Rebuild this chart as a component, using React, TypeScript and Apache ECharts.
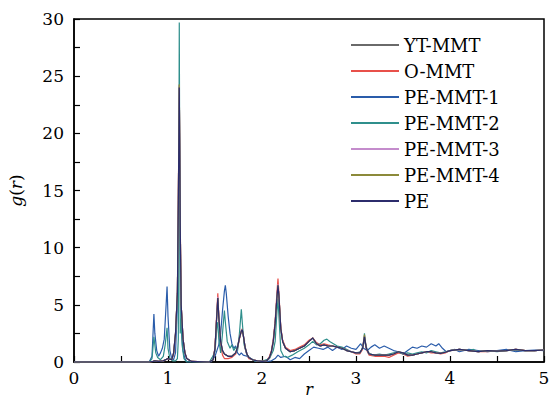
import React, { useEffect, useRef } from "react";
import * as echarts from "echarts";

// shared r grid for the closely overlapping curves
const rGrid = [
  0, 0.80, 0.84, 0.86, 0.90, 0.95, 1.00, 1.04, 1.06, 1.08,
  1.10, 1.11, 1.12, 1.13, 1.14, 1.16, 1.18, 1.20, 1.25, 1.44,
  1.48, 1.50, 1.52, 1.53, 1.54, 1.56, 1.58, 1.60, 1.64, 1.68,
  1.72, 1.74, 1.76, 1.78, 1.79, 1.80, 1.82, 1.84, 1.86, 1.90,
  1.95, 2.00, 2.05, 2.08, 2.10, 2.12, 2.14, 2.16, 2.17, 2.18,
  2.20, 2.22, 2.25, 2.30, 2.35, 2.40, 2.45, 2.50, 2.54, 2.58,
  2.62, 2.66, 2.70, 2.75, 2.80, 2.85, 2.90, 2.95, 3.00, 3.04,
  3.07, 3.09, 3.11, 3.14, 3.20, 3.25, 3.30, 3.35, 3.40, 3.45,
  3.50, 3.55, 3.60, 3.65, 3.70, 3.75, 3.80, 3.85, 3.90, 3.95,
  4.00, 4.10, 4.20, 4.30, 4.40, 4.50, 4.60, 4.70, 4.80, 4.90, 5.00,
];

const ytMmt = [
  0, 0, 0.05, 0.1, 0.05, 0.1, 0.3, 0.2, 0.8, 2.5,
  6.0, 14, 24.0, 12, 5.0, 2.0, 0.8, 0.3, 0.05, 0,
  0.2, 1.2, 4.2, 5.6, 4.0, 1.8, 1.0, 0.7, 0.5, 0.5,
  0.8, 1.3, 2.1, 2.7, 2.8, 2.4, 1.3, 0.7, 0.4, 0.2,
  0.1, 0.05, 0.1, 0.4, 0.9, 1.8, 3.4, 5.8, 6.7, 5.8,
  2.9, 1.8, 1.2, 0.9, 1.0, 1.2, 1.4, 1.8, 2.1, 1.6,
  1.4, 1.5, 1.4, 1.4, 1.3, 1.2, 1.0, 0.9, 0.8, 0.8,
  1.2, 2.2, 1.2, 0.7, 0.6, 0.6, 0.6, 0.6, 0.7, 0.9,
  0.8, 0.6, 0.6, 0.7, 0.8, 0.9, 0.9, 0.8, 0.75, 0.85,
  1.0, 1.1, 1.0, 0.9, 1.0, 0.95, 1.0, 1.1, 1.0, 1.0, 1.05,
];

const oMmt = [
  0, 0, 0.05, 0.1, 0.05, 0.1, 0.3, 0.2, 0.7, 2.4,
  6.2, 14.5, 24.2, 12.5, 5.0, 2.0, 0.8, 0.3, 0.05, 0,
  0.2, 1.3, 4.5, 6.0, 4.1, 1.5, 0.6, 0.3, 0.3, 0.4,
  0.7, 1.2, 2.0, 2.7, 2.9, 2.4, 1.2, 0.6, 0.3, 0.2,
  0.1, 0.05, 0.1, 0.5, 1.0, 2.0, 3.6, 6.2, 7.3, 6.0,
  3.0, 1.9, 1.3, 1.0, 1.1, 1.3, 1.5, 1.9, 2.1, 1.7,
  1.5, 1.6, 1.5, 1.4, 1.3, 1.2, 1.1, 0.9, 0.7, 0.7,
  1.1, 2.1, 1.1, 0.6, 0.5, 0.5, 0.5, 0.4, 0.6, 0.8,
  0.7, 0.5, 0.6, 0.7, 0.8, 0.9, 0.8, 0.8, 0.7, 0.8,
  1.0, 1.1, 1.0, 0.9, 0.9, 1.0, 1.0, 1.1, 1.0, 1.0, 1.05,
];

const peMmt3 = [
  0, 0, 0.05, 0.1, 0.05, 0.1, 0.3, 0.2, 0.8, 2.5,
  6.0, 14, 24.1, 12, 5.0, 2.0, 0.8, 0.3, 0.05, 0,
  0.2, 1.2, 4.3, 5.7, 4.0, 1.8, 1.0, 0.7, 0.5, 0.5,
  0.8, 1.3, 2.1, 2.8, 2.8, 2.4, 1.3, 0.7, 0.4, 0.2,
  0.1, 0.05, 0.1, 0.4, 0.9, 1.8, 3.4, 5.9, 6.8, 5.8,
  2.9, 1.8, 1.2, 0.9, 1.0, 1.2, 1.4, 1.8, 2.1, 1.6,
  1.4, 1.5, 1.4, 1.4, 1.3, 1.2, 1.0, 0.9, 0.8, 0.8,
  1.2, 2.3, 1.2, 0.7, 0.6, 0.6, 0.6, 0.6, 0.7, 0.9,
  0.8, 0.6, 0.6, 0.7, 0.8, 0.9, 0.9, 0.8, 0.75, 0.85,
  1.0, 1.1, 1.0, 0.9, 1.0, 0.95, 1.0, 1.1, 1.0, 1.0, 1.05,
];

const peMmt4 = [
  0, 0, 0.05, 0.1, 0.05, 0.1, 0.3, 0.2, 0.8, 2.5,
  6.1, 14.2, 24.3, 12.2, 5.0, 2.0, 0.8, 0.3, 0.05, 0,
  0.2, 1.2, 4.2, 5.6, 4.0, 1.8, 1.0, 0.7, 0.5, 0.5,
  0.8, 1.3, 2.1, 2.7, 2.8, 2.4, 1.3, 0.7, 0.4, 0.2,
  0.1, 0.05, 0.1, 0.4, 0.9, 1.8, 3.4, 5.8, 6.7, 5.8,
  2.9, 1.8, 1.2, 0.9, 1.0, 1.2, 1.4, 1.8, 2.1, 1.6,
  1.4, 1.5, 1.4, 1.4, 1.3, 1.2, 1.0, 0.9, 0.8, 0.8,
  1.2, 2.4, 1.2, 0.7, 0.6, 0.6, 0.6, 0.6, 0.7, 0.9,
  0.8, 0.6, 0.6, 0.7, 0.8, 0.9, 0.9, 0.8, 0.75, 0.85,
  1.0, 1.1, 1.0, 0.9, 1.0, 0.95, 1.0, 1.1, 1.0, 1.0, 1.05,
];

const pe = [
  0, 0, 0.05, 0.1, 0.05, 0.1, 0.3, 0.2, 0.8, 2.5,
  6.0, 14, 24.0, 12, 5.0, 2.0, 0.8, 0.3, 0.05, 0,
  0.2, 1.2, 4.2, 5.6, 4.0, 1.8, 1.0, 0.7, 0.5, 0.5,
  0.8, 1.3, 2.1, 2.7, 2.8, 2.4, 1.3, 0.7, 0.4, 0.2,
  0.1, 0.05, 0.1, 0.4, 0.9, 1.8, 3.4, 5.8, 6.7, 5.8,
  2.9, 1.8, 1.2, 0.9, 1.0, 1.2, 1.4, 1.8, 2.1, 1.6,
  1.4, 1.5, 1.4, 1.4, 1.3, 1.2, 1.0, 0.9, 0.8, 0.8,
  1.2, 2.2, 1.2, 0.7, 0.6, 0.6, 0.6, 0.6, 0.7, 0.9,
  0.8, 0.6, 0.6, 0.7, 0.8, 0.9, 0.9, 0.8, 0.75, 0.85,
  1.0, 1.1, 1.0, 0.9, 1.0, 0.95, 1.0, 1.1, 1.0, 1.0, 1.05,
];

// distinct, noisier curves given as [r, g(r)] pairs
const peMmt1: [number, number][] = [
  [0, 0], [0.80, 0], [0.83, 0.5], [0.85, 4.2], [0.86, 2.5], [0.88, 1.0], [0.90, 0.5],
  [0.92, 0.8], [0.94, 1.2], [0.96, 2.0], [0.98, 5.0], [0.99, 6.6], [1.00, 4.0],
  [1.02, 1.0], [1.04, 0.3], [1.06, 0.2], [1.08, 0.8], [1.10, 5.0], [1.11, 12],
  [1.12, 22], [1.13, 10], [1.14, 3.0], [1.16, 1.0], [1.18, 0.3], [1.20, 0],
  [1.46, 0], [1.48, 0.3], [1.50, 0.5], [1.52, 1.0], [1.54, 1.5], [1.56, 2.5],
  [1.58, 4.5], [1.60, 6.2], [1.61, 6.7], [1.62, 6.0], [1.64, 4.0], [1.66, 2.5],
  [1.68, 1.6], [1.70, 1.2], [1.72, 1.4], [1.74, 0.8], [1.76, 0.6], [1.78, 0.8],
  [1.80, 0.6], [1.84, 0.5], [1.88, 0.3], [1.92, 0.1], [2.00, 0], [2.10, 0.1],
  [2.14, 0.3], [2.17, 0.6], [2.20, 0.4], [2.25, 0.5], [2.30, 0.2], [2.35, 0.4],
  [2.40, 0.3], [2.45, 0.7], [2.50, 1.0], [2.55, 1.3], [2.60, 1.2], [2.65, 1.1],
  [2.70, 1.3], [2.75, 1.0], [2.80, 1.3], [2.85, 1.1], [2.90, 1.4], [2.95, 1.2],
  [3.00, 1.1], [3.05, 1.6], [3.08, 1.2], [3.12, 1.0], [3.16, 1.3], [3.20, 1.5],
  [3.25, 1.2], [3.30, 1.4], [3.35, 1.2], [3.40, 1.0], [3.45, 0.9], [3.50, 0.7],
  [3.55, 1.0], [3.60, 1.3], [3.65, 1.2], [3.70, 1.4], [3.75, 1.3], [3.80, 1.6],
  [3.85, 1.4], [3.88, 1.6], [3.92, 1.2], [3.96, 0.9], [4.00, 1.0], [4.05, 1.1],
  [4.10, 0.9], [4.20, 1.1], [4.30, 1.0], [4.40, 0.9], [4.50, 1.0], [4.60, 1.1],
  [4.70, 0.9], [4.80, 1.0], [4.90, 1.05], [5.00, 1.0],
];

const peMmt2: [number, number][] = [
  [0, 0], [0.80, 0], [0.83, 0.3], [0.85, 2.2], [0.87, 0.8], [0.89, 0.4], [0.92, 0.2],
  [0.95, 0.5], [0.97, 1.5], [0.99, 3.0], [1.00, 1.2], [1.02, 0.3], [1.05, 0.1],
  [1.08, 0.1], [1.10, 0.3], [1.11, 2.0], [1.12, 29.7], [1.13, 2.5], [1.14, 3.8],
  [1.15, 1.5], [1.17, 0.3], [1.20, 0], [1.44, 0], [1.47, 0.4], [1.50, 0.9],
  [1.52, 3.0], [1.53, 3.5], [1.54, 2.0], [1.56, 0.8], [1.58, 2.5], [1.60, 4.5],
  [1.61, 3.5], [1.63, 1.8], [1.66, 1.2], [1.68, 1.5], [1.70, 1.0], [1.72, 1.3],
  [1.74, 1.0], [1.76, 2.5], [1.78, 4.6], [1.79, 3.5], [1.81, 1.5], [1.84, 0.6],
  [1.88, 0.3], [1.92, 0.1], [2.00, 0.05], [2.08, 0.3], [2.12, 1.0], [2.14, 1.8],
  [2.16, 4.5], [2.17, 5.5], [2.18, 4.0], [2.20, 1.0], [2.23, 0.5], [2.27, 0.4],
  [2.32, 0.6], [2.38, 0.9], [2.45, 1.2], [2.50, 1.5], [2.54, 1.8], [2.58, 1.5],
  [2.62, 1.6], [2.66, 1.9], [2.69, 2.0], [2.72, 1.8], [2.76, 1.6], [2.80, 1.4],
  [2.85, 1.3], [2.90, 1.1], [2.95, 0.9], [3.00, 0.8], [3.05, 0.9], [3.08, 1.5],
  [3.09, 2.5], [3.10, 1.6], [3.13, 0.8], [3.18, 0.6], [3.25, 0.7], [3.30, 0.6],
  [3.35, 0.7], [3.40, 0.8], [3.45, 0.9], [3.50, 0.7], [3.55, 0.8], [3.60, 0.7],
  [3.65, 0.8], [3.70, 0.9], [3.75, 0.8], [3.80, 1.0], [3.85, 0.9], [3.90, 0.8],
  [3.95, 0.9], [4.00, 1.0], [4.10, 1.1], [4.20, 1.0], [4.25, 1.1], [4.30, 0.9],
  [4.40, 1.0], [4.50, 0.9], [4.60, 1.0], [4.70, 1.05], [4.80, 1.0], [4.90, 1.0],
  [5.00, 1.05],
];

const seriesNames = ["YT-MMT", "O-MMT", "PE-MMT-1", "PE-MMT-2", "PE-MMT-3", "PE-MMT-4", "PE"];
const seriesColors = ["#6a6a6a", "#e8504a", "#2a5caa", "#2f8f8c", "#c48ccc", "#8c8a3a", "#2c2c6c"];

const xTicks = [0, 1, 2, 3, 4, 5];
const yTicks = [0, 5, 10, 15, 20, 25, 30];

const FONT = "DejaVu Serif";

const toPairs = (vals: number[]) => vals.map((v, i) => [rGrid[i], v]);

export default function App() {
  const ref = useRef<HTMLDivElement>(null);
  useEffect(() => {
    if (!ref.current) return;
    const chart = echarts.init(ref.current, undefined, { renderer: "svg" });
    const dataSets = [
      toPairs(ytMmt),
      toPairs(oMmt),
      peMmt1,
      peMmt2,
      toPairs(peMmt3),
      toPairs(peMmt4),
      toPairs(pe),
    ];
    chart.setOption({
      animation: false,
      backgroundColor: "#ffffff",
      grid: {
        left: 74,
        right: 5,
        top: 19,
        bottom: 38,
        containLabel: false,
        outerBoundsMode: "none",
        show: true,
        borderColor: "#000",
        borderWidth: 1.5,
        backgroundColor: "transparent",
      },
      legend: {
        orient: "vertical",
        left: 346,
        top: 31,
        itemWidth: 48,
        itemHeight: 2,
        itemGap: 8,
        icon: "rect",
        data: seriesNames,
        textStyle: { fontFamily: FONT, fontSize: 18, color: "#000" },
      },
      xAxis: {
        type: "value",
        min: 0,
        max: 5,
        interval: 0.5,
        name: "r",
        nameLocation: "middle",
        nameGap: 19,
        nameMoveOverlap: false,
        nameTextStyle: { fontFamily: FONT, fontSize: 16, fontStyle: "italic", color: "#000" },
        axisLine: { show: true, lineStyle: { color: "#000", width: 1.5 } },
        axisTick: { show: true, inside: true, length: 6, lineStyle: { color: "#000", width: 1.2 } },
        axisLabel: {
          fontFamily: FONT,
          fontSize: 17,
          color: "#000",
          margin: 7,
          formatter: (v: number) => (xTicks.includes(v) ? String(v) : ""),
        },
        splitLine: { show: false },
      },
      yAxis: {
        type: "value",
        min: 0,
        max: 30,
        interval: 2.5,
        name: "{i|g}({i|r})",
        nameLocation: "middle",
        nameGap: 50,
        nameRotate: 90,
        nameMoveOverlap: false,
        nameTextStyle: {
          fontFamily: FONT,
          fontSize: 17,
          color: "#000",
          rich: { i: { fontFamily: FONT, fontSize: 17, fontStyle: "italic", color: "#000" } },
        },
        axisLine: { show: true, lineStyle: { color: "#000", width: 1.5 } },
        axisTick: { show: true, inside: true, length: 6, lineStyle: { color: "#000", width: 1.2 } },
        axisLabel: {
          fontFamily: FONT,
          fontSize: 17,
          color: "#000",
          margin: 10,
          formatter: (v: number) => (yTicks.includes(v) ? String(v) : ""),
        },
        splitLine: { show: false },
      },
      series: seriesNames.map((name, i) => ({
        name,
        type: "line",
        data: dataSets[i],
        showSymbol: false,
        symbol: "none",
        lineStyle: { width: 1.2, color: seriesColors[i] },
        itemStyle: { color: seriesColors[i] },
        z: 2 + i,
      })),
    });
    return () => chart.dispose();
  }, []);
  return <div ref={ref} style={{ width: 549, height: 400, position: "absolute", left: 0, top: 0 }} />;
}
